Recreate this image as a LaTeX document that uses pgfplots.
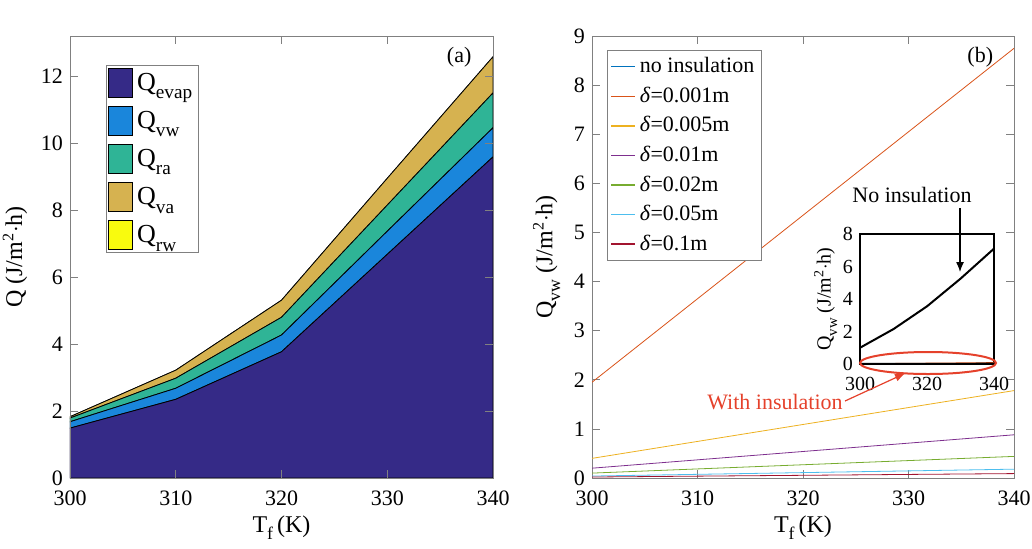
\documentclass[border=0pt]{standalone}
\usepackage{fontspec}
\setmainfont{Liberation Serif}
\usepackage{graphicx}
\usepackage{pgfplots}
\pgfplotsset{compat=1.18}
\usetikzlibrary{arrows.meta}

\newcommand\lsub[1]{\raisebox{-0.32em}{\scalebox{0.74}{#1}}}

\definecolor{cevap}{HTML}{352A87}
\definecolor{cvw}{HTML}{1A86DB}
\definecolor{cra}{HTML}{2FB496}
\definecolor{cva}{HTML}{D6B250}
\definecolor{crw}{HTML}{F9FB0E}
\definecolor{m1}{HTML}{0072BD}
\definecolor{m2}{HTML}{D95319}
\definecolor{m3}{HTML}{EDB120}
\definecolor{m4}{HTML}{7E2F8E}
\definecolor{m5}{HTML}{77AC30}
\definecolor{m6}{HTML}{4DBEEE}
\definecolor{m7}{HTML}{A2142F}
\definecolor{annot}{HTML}{E5412B}

\pgfplotsset{
  panel/.style={
    scale only axis,
    anchor=south west,
    axis line style={black!50},
    tick style={black!50, thin},
    tick align=inside,
    major tick length=4pt,
    ticklabel style={font=\fontsize{11}{13}\selectfont},
    xticklabel style={yshift=-3pt},
    xlabel style={yshift=2pt},
    label style={font=\fontsize{12}{14}\selectfont},
    /pgf/number format/assume math mode=true,
    /pgf/number format/.cd, fixed, 1000 sep={},
  },
}

\begin{document}
\begin{tikzpicture}
\path[use as bounding box] (0,0) rectangle (516pt,274pt);

% ---------- (a) stacked heat components, values in 10^6 J/(m^2 h)
\begin{axis}[panel,
  at={(35pt,35pt)}, width=211.5pt, height=221pt,
  xmin=300, xmax=340, ymin=0, ymax=13.2,
  xtick={300,310,...,340}, ytick={0,2,...,12},
  stack plots=y, area style,
  xlabel={T\lsub{f}\,(K)},
  ylabel={Q (J/m\textsuperscript{2}$\cdot$h)},
  legend cell align=left,
  legend style={at={(0.085,0.934)}, anchor=north west, draw=black!50,
    font=\fontsize{13}{14}\selectfont, inner sep=1pt, row sep=4.2pt},
  legend image code/.code={\draw[#1,draw=black] (0pt,-7pt) rectangle (12pt,7.5pt);},
]
\addplot[fill=cevap, draw=black, thin] coordinates {(300,1.49) (310,2.35) (320,3.77) (330,6.68) (340,9.59)} \closedcycle;
\addplot[fill=cvw, draw=black, thin] coordinates {(300,0.19) (310,0.33) (320,0.50) (330,0.69) (340,0.87)} \closedcycle;
\addplot[fill=cra, draw=black, thin] coordinates {(300,0.11) (310,0.30) (320,0.53) (330,0.78) (340,1.04)} \closedcycle;
\addplot[fill=cva, draw=black, thin] coordinates {(300,0.04) (310,0.24) (320,0.51) (330,0.80) (340,1.08)} \closedcycle;
\addplot[fill=crw, draw=black, thin] coordinates {(300,0) (310,0) (320,0) (330,0) (340,0)} \closedcycle;
\legend{Q\lsub{evap}, Q\lsub{vw}, Q\lsub{ra}, Q\lsub{va}, Q\lsub{rw}}
\node[anchor=south west, font=\fontsize{12}{14}\selectfont, inner sep=1pt] at (rel axis cs:0,1) {$\times\mathrm{10}^{6}$};
\node[font=\fontsize{11}{13}\selectfont] at (rel axis cs:0.92,0.952) {(a)};
\end{axis}

% ---------- (b) Q_vw for insulation thickness, values in 10^5 J/(m^2 h)
\begin{axis}[panel,
  at={(296pt,35pt)}, width=211pt, height=221pt,
  xmin=300, xmax=340, ymin=0, ymax=9,
  xtick={300,310,...,340}, ytick={0,1,...,9},
  xlabel={T\lsub{f}\,(K)},
  ylabel={Q\lsub{vw} (J/m\textsuperscript{2}$\cdot$h)},
  legend cell align=left,
  legend style={at={(0.036,0.968)}, anchor=north west, draw=black!50,
    font=\fontsize{11}{12}\selectfont, inner sep=1.5pt, row sep=1.6pt},
  legend image code/.code={\draw[#1, line width=0.7pt] (0pt,0pt) -- (12pt,0pt);},
]
% no insulation lies far above this range (see inset); clamped and clipped
\addplot[color=m1, thin, restrict y to domain*=-1:10] coordinates {(300,100) (310,230) (320,353) (330,540) (340,710)};
\addplot[color=m2, thin] coordinates {(300,1.95) (310,3.65) (320,5.35) (330,7.05) (340,8.75)};
\addplot[color=m3, thin] coordinates {(300,0.40) (310,0.745) (320,1.09) (330,1.435) (340,1.78)};
\addplot[color=m4, thin] coordinates {(300,0.20) (310,0.37) (320,0.54) (330,0.71) (340,0.88)};
\addplot[color=m5, thin] coordinates {(300,0.10) (310,0.185) (320,0.27) (330,0.355) (340,0.44)};
\addplot[color=m6, thin] coordinates {(300,0.04) (310,0.075) (320,0.11) (330,0.145) (340,0.18)};
\addplot[color=m7, thin] coordinates {(300,0.02) (310,0.038) (320,0.055) (330,0.073) (340,0.09)};
\legend{no insulation, \textit{δ}=0.001m, \textit{δ}=0.005m, \textit{δ}=0.01m, \textit{δ}=0.02m, \textit{δ}=0.05m, \textit{δ}=0.1m}
\node[anchor=south west, font=\fontsize{12}{14}\selectfont, inner sep=1pt] at (rel axis cs:0,1) {$\times\mathrm{10}^{5}$};
\node[font=\fontsize{11}{13}\selectfont] at (rel axis cs:0.92,0.952) {(b)};
\end{axis}

% ---------- inset, values in 10^7 J/(m^2 h)
\begin{axis}[panel,
  at={(430pt,92pt)}, width=67pt, height=65pt,
  axis line style={black, line width=1.1pt},
  major tick length=0pt,
  ticklabel style={font=\fontsize{10}{11}\selectfont},
  label style={font=\fontsize{10}{11}\selectfont},
  xmin=300, xmax=340, ymin=0, ymax=8,
  xtick={300,320,340}, ytick={0,2,...,8},
  ylabel={Q\lsub{vw} (J/m\textsuperscript{2}$\cdot$h)},
  ylabel style={yshift=-4pt},
  xticklabel style={yshift=0pt},
]
\addplot[black, line width=1pt] coordinates {(300,1.0) (310,2.15) (320,3.55) (330,5.25) (340,7.1)};
\addplot[color=m2, thin] coordinates {(300,0.0195) (310,0.0365) (320,0.0535) (330,0.0705) (340,0.0875)};
\addplot[black, line width=1pt] coordinates {(300,0.004) (310,0.0075) (320,0.011) (330,0.014) (340,0.018)};
\node[anchor=south west, font=\fontsize{10}{11}\selectfont, inner sep=1pt] at (rel axis cs:0,1) {$\times\mathrm{10}^{7}$};
\end{axis}

% annotations
\draw[annot, line width=1pt] (464pt,92.5pt) ellipse (34pt and 5.5pt);
\node[font=\fontsize{11}{13}\selectfont] at (456pt,176.5pt) {No insulation};
\draw[-{Latex[length=5pt,width=4pt]}, black, line width=0.6pt] (480pt,170pt) -- (480pt,138pt);
\node[annot, font=\fontsize{11}{13}\selectfont] at (387.5pt,73pt) {With insulation};
\draw[-{Latex[length=5pt,width=4pt]}, annot, line width=0.6pt] (422.5pt,73.5pt) -- (452.5pt,87.3pt);
\end{tikzpicture}
\end{document}
